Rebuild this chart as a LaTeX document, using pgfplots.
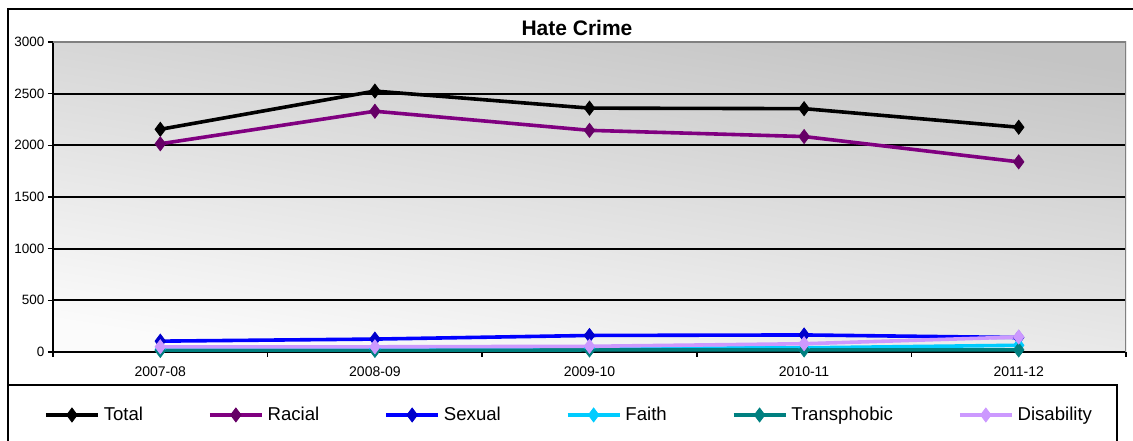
\documentclass[border=0pt]{standalone}
\usepackage{fontspec}
\setmainfont{Liberation Sans}
\usepackage{pgfplots}
\pgfplotsset{compat=1.18}

\definecolor{racial}{HTML}{800080}
\definecolor{racialmark}{HTML}{660066}
\definecolor{sexual}{HTML}{0000FF}
\definecolor{sexualmark}{HTML}{0000CC}
\definecolor{faith}{HTML}{00CCFF}
\definecolor{trans}{HTML}{008080}
\definecolor{disab}{HTML}{CC99FF}

\pgfplotsset{
  series/.style n args={2}{color=#1, line width=3.6pt, mark=diamond*, mark size=7pt,
    mark options={solid, fill=#2, draw=#2, line width=0.8pt}},
}

\begin{document}
\begin{tikzpicture}
\path[use as bounding box] (0,0) rectangle (1133pt,441pt);
\begin{scope}
\clip (0,0) rectangle (1133pt,441pt);
% outer frame and legend box
\draw[line width=2.4pt] (8pt,-5pt) -- (8pt,432pt) -- (1140pt,432pt);
\draw[line width=2.4pt] (8pt,-5pt) -- (8pt,56pt) -- (1117pt,56pt) -- (1117pt,-5pt);
\node[font=\bfseries\fontsize{21}{25}\selectfont, anchor=base] at (577pt,405pt) {Hate Crime};

\begin{axis}[
  at={(53pt,89pt)}, anchor=south west,
  scale only axis, width=1073pt, height=310pt,
  xmin=-0.5, xmax=4.5, ymin=0, ymax=3000,
  axis lines=left, axis line style={-, black, line width=2pt},
  axis background/.style={shade, top color=gray!46, bottom color=white!97!gray, shading angle=-9},
  xtick={-0.5,0.5,...,4.5}, xticklabels={},
  extra x ticks={0,1,2,3,4},
  extra x tick labels={2007-08,2008-09,2009-10,2010-11,2011-12},
  extra x tick style={major tick length=0pt, grid=none},
  ytick={0,500,...,2500},
  extra y ticks={3000}, extra y tick style={grid=none},
  ymajorgrids, major grid style={black, line width=1.8pt},
  tick align=outside, major tick length=5pt, tick style={black, line width=1.6pt},
  /pgf/number format/assume math mode=true,
  /pgf/number format/1000 sep={},
  yticklabel style={font=\fontsize{13.5}{15}\selectfont, xshift=0pt},
  xticklabel style={font=\fontsize{14}{16}\selectfont, yshift=-11pt},
  legend columns=6,
  legend style={at={(-0.0084,-0.2032)}, anchor=west, draw=none, fill=none,
    inner sep=0pt, column sep=0pt,
    nodes={inner sep=0pt, font=\fontsize{18.6}{22}\selectfont},
    /tikz/every odd column/.append style={column sep=4pt},
    /tikz/every even column/.append style={column sep=65pt}},
  legend image code/.code={\draw[mark repeat=2,mark phase=2,#1] plot coordinates {(0pt,0pt) (26pt,0pt) (52pt,0pt)};},
]
\draw[gray, line width=1.4pt] (rel axis cs:0,1) -- (rel axis cs:1,1) -- (rel axis cs:1,0);

\addplot[series={black}{black}]
  coordinates {(0,2155)(1,2525)(2,2360)(3,2355)(4,2175)};
\addplot[series={racial}{racialmark}]
  coordinates {(0,2015)(1,2330)(2,2145)(3,2085)(4,1840)};
\addplot[series={sexual}{sexualmark}]
  coordinates {(0,105)(1,125)(2,160)(3,165)(4,140)};
\addplot[series={faith}{faith}]
  coordinates {(0,25)(1,30)(2,35)(3,40)(4,65)};
\addplot[series={trans}{trans}]
  coordinates {(0,15)(1,15)(2,20)(3,20)(4,20)};
\addplot[series={disab}{disab}]
  coordinates {(0,50)(1,50)(2,55)(3,80)(4,145)};
\legend{Total,Racial,Sexual,Faith,Transphobic,Disability}
\end{axis}
\end{scope}
\end{tikzpicture}
\end{document}
